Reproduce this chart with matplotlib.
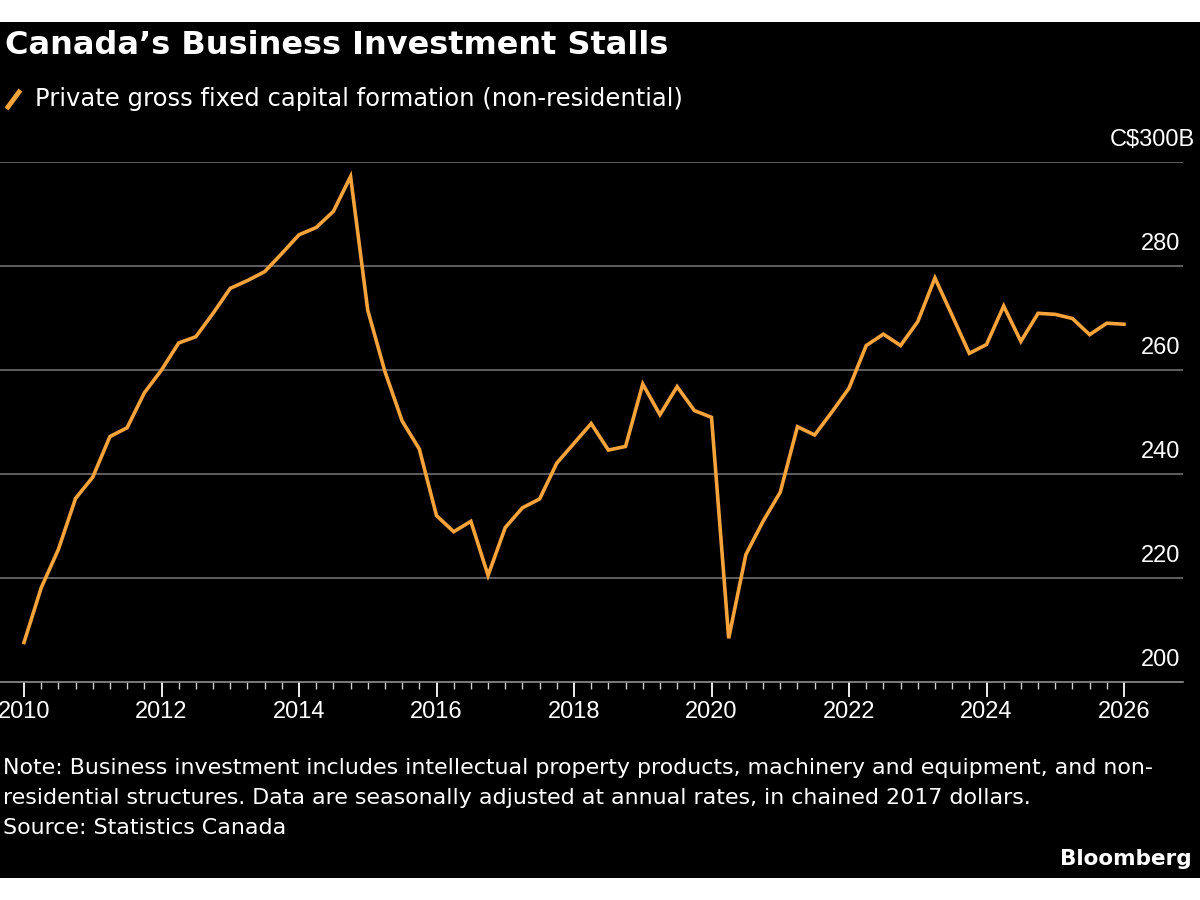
import matplotlib.pyplot as plt
from matplotlib.patches import Rectangle
from matplotlib.transforms import blended_transform_factory
import numpy as np

# Quarterly values, 2010Q1 .. 2026Q1, C$ billions
values = [207.6, 218.1, 225.5, 235.3, 239.4, 247.2, 248.9, 255.6,
          260.0, 265.2, 266.4, 270.9, 275.7, 277.2, 278.9, 282.4,
          286.0, 287.4, 290.5, 297.2, 271.5, 259.7, 250.2, 244.8,
          232.0, 228.9, 230.9, 220.5, 229.7, 233.5, 235.2, 242.1,
          245.9, 249.7, 244.6, 245.3, 257.3, 251.4, 256.8, 252.2,
          250.9, 208.4, 224.5, 230.9, 236.5, 249.1, 247.5, 251.9,
          256.5, 264.7, 266.9, 264.7, 269.3, 277.7, 270.5, 263.2,
          264.9, 272.3, 265.5, 270.9, 270.7, 269.9, 266.8, 269.0,
          268.8]
dates = 2010 + np.arange(len(values)) / 4
yticks = [200, 220, 240, 260, 280, 300]
xticks = list(range(2010, 2027, 2))

ORANGE = "#f5a33a"
NUM_FONT = "Liberation Sans"
TXT_FONT = "DejaVu Sans"

fig = plt.figure(figsize=(12, 9), dpi=100, facecolor="white")
fig.patches.append(Rectangle((0, 22 / 900), 1, 856 / 900, transform=fig.transFigure,
                             facecolor="black", zorder=-10))

ax = fig.add_axes([0, 218 / 900, 1183 / 1200, 520 / 900])
ax.set_facecolor("black")
ax.set_xlim(2010 - 24 / 68.75, 2026 + 59 / 68.75)
ax.set_ylim(200, 300)

for t in yticks[1:]:
    ax.axhline(t, color="#707070", lw=1.2, zorder=1)
ax.plot(dates, values, color=ORANGE, lw=2.6, zorder=3, solid_joinstyle="miter")

for s in ["top", "left", "right"]:
    ax.spines[s].set_visible(False)
ax.spines["bottom"].set_color("#909090")
ax.spines["bottom"].set_linewidth(1.2)

ax.set_xticks(xticks)
ax.set_xticklabels([str(x) for x in xticks], color="white", fontsize=17, family=NUM_FONT)
ax.set_xticks(np.arange(2010, 2026.01, 0.25), minor=True)
ax.tick_params(axis="x", which="major", length=11, width=1.3, color="white", pad=3)
ax.tick_params(axis="x", which="minor", length=5, width=1, color="#cccccc")
ax.set_yticks([])

tr = blended_transform_factory(ax.transAxes, ax.transData)
for t in yticks:
    label = "C$300B" if t == 300 else str(t)
    x = 1195 / 1183 if t == 300 else 0.998
    ax.text(x, t + 2.2, label, transform=tr, ha="right", va="bottom",
            color="white", fontsize=17, family=NUM_FONT, clip_on=False)

fig.text(5 / 1200, 1 - 45 / 900, "Canada’s Business Investment Stalls", color="white",
         fontsize=23, fontweight="bold", family=TXT_FONT, va="center")
fig.lines.append(plt.Line2D([8 / 1200, 19 / 1200], [1 - 107 / 900, 1 - 92 / 900],
                            transform=fig.transFigure, color=ORANGE, lw=3.5))
fig.text(35 / 1200, 1 - 99 / 900, "Private gross fixed capital formation (non-residential)",
         color="white", fontsize=17.5, family=TXT_FONT, va="center")

notes = ["Note: Business investment includes intellectual property products, machinery and equipment, and non-",
         "residential structures. Data are seasonally adjusted at annual rates, in chained 2017 dollars.",
         "Source: Statistics Canada"]
for i, line in enumerate(notes):
    fig.text(3 / 1200, 1 - (768 + 30 * i) / 900, line, color="white", fontsize=15.9,
             family=TXT_FONT, va="center")
fig.text(1192 / 1200, 1 - 859 / 900, "Bloomberg", color="white", fontsize=15.5,
         fontweight="bold", family=TXT_FONT, ha="right", va="center")

fig.savefig("out.png", dpi=100, facecolor="white")
